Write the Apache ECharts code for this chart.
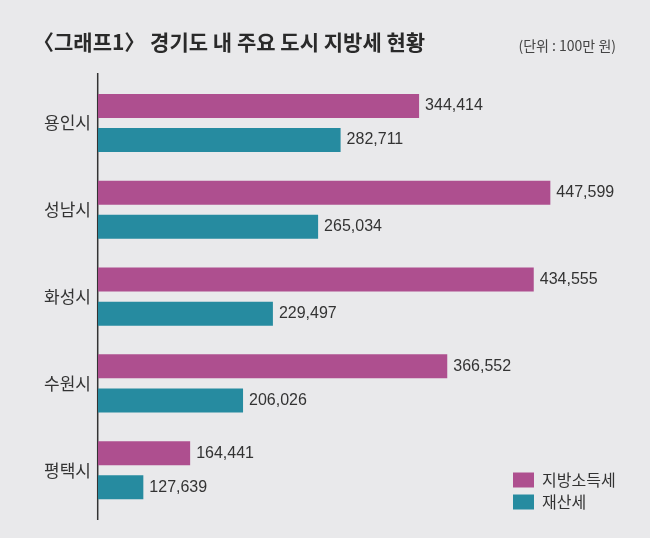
<!DOCTYPE html>
<html>
<head>
<meta charset="utf-8">
<script src="https://cdn.jsdelivr.net/npm/echarts@6/dist/echarts.min.js"></script>
<style>
  html, body { margin: 0; padding: 0; background: #e9e9eb; }
  #chart { width: 650px; height: 538px; }
</style>
</head>
<body>
<div id="chart"></div>
<script>
// 도시 목록 (위에서 아래 순서)
var cities = ["용인시", "성남시", "화성시", "수원시", "평택시"];
// 지방소득세 (단위: 100만 원)
var incomeTax = [344414, 447599, 434555, 366552, 164441];
// 재산세
var propertyTax = [282711, 265034, 229497, 206026, 127639];
var seriesNames = ["지방소득세", "재산세"];

var KR_FONT = '"Noto Sans CJK KR", "Noto Sans", sans-serif';
var NUM_FONT = '"Liberation Sans", Arial, sans-serif';

var myChart = echarts.init(document.getElementById("chart"));

function valueLabel() {
    return {
        show: true,
        position: "right",
        distance: 6,
        color: "#333",
        fontFamily: NUM_FONT,
        fontSize: 16,
        formatter: function (p) {
            return p.value.toLocaleString("en-US");
        }
    };
}

var option = {
    backgroundColor: "#e9e9eb",
    animation: false,
    title: [{
        text: "〈그래프1〉 경기도 내 주요 도시 지방세 현황",
        left: 28,
        top: 27,
        textStyle: { fontFamily: KR_FONT, fontSize: 21, fontWeight: "bold", color: "#2a2a2a" }
    }, {
        text: "(단위 : 100만 원)",
        right: 29,
        top: 34,
        textStyle: { fontFamily: KR_FONT, fontSize: 14, fontWeight: "normal", color: "#444" }
    }],
    legend: {
        orient: "vertical",
        left: 513,
        top: 472,
        padding: 0,
        itemWidth: 21,
        itemHeight: 15,
        itemGap: 6,
        icon: "rect",
        data: seriesNames,
        textStyle: { fontFamily: KR_FONT, fontSize: 16, color: "#333", lineHeight: 15, padding: [0, 0, 0, 3] }
    },
    grid: { left: 98, right: 33, top: 79.6, bottom: 24.4 },
    xAxis: {
        type: "value",
        min: 92000,
        max: 500000,
        show: false
    },
    yAxis: {
        type: "category",
        data: cities,
        inverse: true,
        axisLine: { show: false },
        axisTick: { show: false },
        axisLabel: { margin: 7, color: "#333", fontFamily: KR_FONT, fontSize: 17 }
    },
    graphic: [{
        type: "line",
        shape: { x1: 97.7, y1: 73, x2: 97.7, y2: 520 },
        style: { stroke: "#333", lineWidth: 1.5 }
    }],
    series: [{
        name: seriesNames[0],
        type: "bar",
        data: incomeTax,
        barWidth: 24,
        barGap: "42%",
        itemStyle: { color: "#ae4f8f" },
        label: valueLabel()
    }, {
        name: seriesNames[1],
        type: "bar",
        data: propertyTax,
        barWidth: 24,
        barGap: "42%",
        itemStyle: { color: "#268ba0" },
        label: valueLabel()
    }]
};

myChart.setOption(option);
</script>
</body>
</html>
